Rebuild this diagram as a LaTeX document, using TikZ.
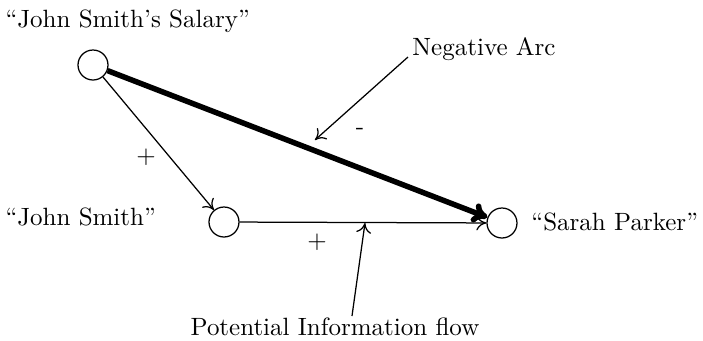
\documentclass[tikz,border=0pt]{standalone}
\usetikzlibrary{arrows.meta}
\begin{document}
\begin{tikzpicture}[x=0.4pt,y=-0.4pt,
  state/.style={circle,draw,line width=0.5pt,minimum size=12pt,inner sep=0pt},
  lbl/.style={inner sep=0pt,font=\fontsize{10}{12}\selectfont},
  thin arc/.style={line width=0.5pt,-{To[length=4pt,width=6pt]}},
  thick arc/.style={line width=2.2pt,-{To[length=6pt,width=8pt]}}]
\useasboundingbox (0,0) rectangle (703,341);
\node[state] (sal) at (93,65) {};
\node[state] (js) at (224,222) {};
\node[state] (sp) at (502,223) {};
\node[lbl,anchor=base west] (tsal) at (5,27) {``John Smith's Salary''};
\node[lbl,anchor=base west] (tjs) at (5,225) {``John Smith''};
\node[lbl,anchor=base west] (tsp) at (531,230) {``Sarah Parker''};
\node[lbl,anchor=base west] (tneg) at (412,55) {Negative Arc};
\node[lbl,anchor=base] (tpot) at (335,335) {Potential Information flow};
\node[lbl] (p1) at (146,157) {+};
\node[lbl] (p2) at (317,242) {+};
\node[lbl] (m1) at (360,131) {-};
\draw[thick arc] (sal) -- (sp);
\draw[thin arc] (sal) -- (js);
\draw[thin arc] (js) -- (sp);
\coordinate (negtip) at (315,140);
\coordinate (pottip) at (365,223);
\coordinate (negstart) at (408,57);
\coordinate (potstart) at (352,316);
\draw[thin arc] (negstart) -- (negtip);
\draw[thin arc] (potstart) -- (pottip);
\end{tikzpicture}
\end{document}
